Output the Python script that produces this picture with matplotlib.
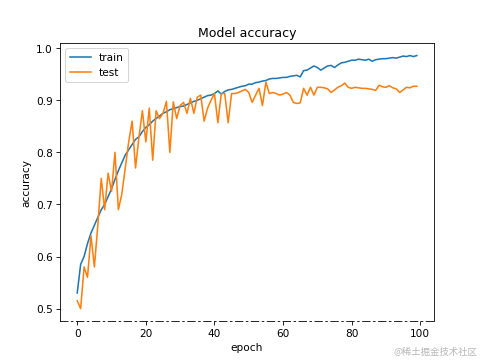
import matplotlib
matplotlib.use("Agg")
import matplotlib.pyplot as plt

# accuracy per epoch
train_acc = [0.53, 0.585, 0.60, 0.625, 0.645, 0.66, 0.675, 0.69, 0.70, 0.715,
             0.73, 0.748, 0.765, 0.78, 0.795, 0.805, 0.815, 0.825, 0.83, 0.84,
             0.848, 0.853, 0.86, 0.865, 0.87, 0.875, 0.878, 0.882, 0.884, 0.886,
             0.888, 0.889, 0.892, 0.895, 0.898, 0.90, 0.903, 0.906, 0.909, 0.91,
             0.913, 0.918, 0.912, 0.917, 0.92, 0.921, 0.923, 0.925, 0.927, 0.928,
             0.931, 0.931, 0.934, 0.935, 0.937, 0.938, 0.941, 0.942, 0.942, 0.943,
             0.944, 0.944, 0.946, 0.947, 0.948, 0.945, 0.957, 0.958, 0.962, 0.966,
             0.963, 0.958, 0.962, 0.966, 0.967, 0.963, 0.968, 0.972, 0.973, 0.975,
             0.977, 0.977, 0.979, 0.978, 0.977, 0.979, 0.975, 0.978, 0.979, 0.98,
             0.98, 0.981, 0.982, 0.981, 0.983, 0.985, 0.984, 0.986, 0.984, 0.986]
test_acc = [0.515, 0.50, 0.58, 0.56, 0.64, 0.58, 0.66, 0.75, 0.69, 0.76,
            0.725, 0.80, 0.69, 0.72, 0.77, 0.82, 0.86, 0.77, 0.83, 0.88,
            0.82, 0.885, 0.785, 0.88, 0.865, 0.875, 0.898, 0.80, 0.897, 0.865,
            0.89, 0.896, 0.875, 0.904, 0.875, 0.906, 0.91, 0.86, 0.885, 0.90,
            0.913, 0.857, 0.913, 0.913, 0.857, 0.913, 0.913, 0.915, 0.918, 0.921,
            0.915, 0.896, 0.91, 0.923, 0.89, 0.935, 0.913, 0.915, 0.913, 0.91,
            0.912, 0.915, 0.91, 0.896, 0.894, 0.895, 0.923, 0.91, 0.925, 0.91,
            0.925, 0.925, 0.924, 0.922, 0.915, 0.92, 0.925, 0.928, 0.933, 0.925,
            0.923, 0.925, 0.924, 0.923, 0.923, 0.922, 0.921, 0.919, 0.929, 0.926,
            0.925, 0.928, 0.924, 0.922, 0.915, 0.92, 0.925, 0.924, 0.927, 0.927]
legend_labels = ["train", "test"]

fig = plt.figure(figsize=(6.4, 4.8), dpi=482 / 6.4)
ax = fig.add_subplot(111)
ax.plot(train_acc)
ax.plot(test_acc)
ax.set_title("Model accuracy")
ax.set_ylabel("accuracy")
ax.set_xlabel("epoch")
ax.legend(legend_labels, loc="upper left")

# the bottom edge in the reference looks broken into dash-dots
ax.spines["bottom"].set_linestyle((0, (9, 4, 2, 4)))

fig.text(0.99, 0.012, "@稀土掘金技术社区", ha="right", va="bottom",
         fontsize=9, color="#b8b8b8",
         family=["Noto Sans CJK SC", "DejaVu Sans"])

fig.savefig("out.png", dpi=482 / 6.4)
